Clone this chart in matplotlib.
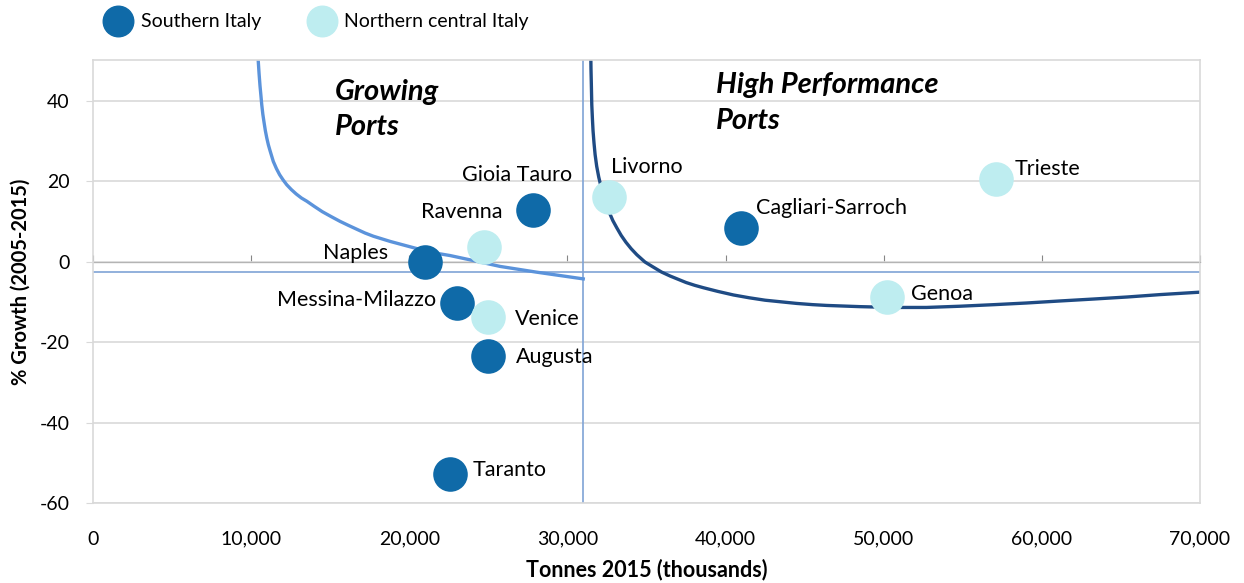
import matplotlib
matplotlib.use('Agg')
import matplotlib.pyplot as plt
from matplotlib.lines import Line2D

plt.rcParams['font.family'] = ['Lato', 'DejaVu Sans']
plt.rcParams['axes.unicode_minus'] = False

# ports (tonnes 2015 in thousands, % growth 2005-2015)
south_names = ['Naples', 'Messina-Milazzo', 'Augusta', 'Taranto', 'Gioia Tauro', 'Cagliari-Sarroch']
south_x = [21000, 23000, 25000, 22600, 27800, 41000]
south_y = [0.0, -10.2, -23.4, -52.7, 12.7, 8.4]

north_names = ['Ravenna', 'Venice', 'Livorno', 'Genoa', 'Trieste']
north_x = [24700, 25000, 32600, 50200, 57100]
north_y = [3.7, -13.7, 16.1, -8.7, 20.4]

# averages (quadrant lines)
avg_x = 31000
avg_y = -2.5

# curves
grow_x = [10450, 10500, 10560, 10620, 10670, 10740, 10820, 10900, 10990, 11090, 11200,
          11300, 11400, 11600, 11800, 12020, 12250, 12540, 12850, 13180, 13520, 14000,
          14500, 15050, 15620, 16150, 16700, 17200, 17730, 18800, 19840, 20700, 21520,
          22580, 24000, 25740, 28000, 31000]
grow_y = [49.8, 46.8, 43.7, 41.2, 39.0, 36.6, 34.5, 32.5, 30.7, 29.0, 27.5,
          26.2, 24.9, 23.1, 21.6, 20.3, 19.1, 17.9, 16.8, 15.8, 15.0, 13.7,
          12.4, 11.2, 10.0, 9.0, 8.0, 7.1, 6.3, 5.0, 3.9, 3.0, 2.2,
          1.5, 0.3, -1.2, -2.6, -4.3]
high_x = [31480, 31490, 31510, 31540, 31580, 31620, 31680, 31750, 31850, 31980, 32120,
          32280, 32450, 32650, 32870, 33120, 33400, 33700, 34030, 34390, 34900, 35400,
          35950, 36500, 37000, 37500, 38050, 38600, 39500, 40500, 41500, 42500, 43500,
          44500, 45500, 46400, 48500, 50600, 52700, 54800, 57000, 59000, 61100, 63300,
          65400, 67500, 70000]
high_y = [50.6, 47.8, 44.5, 39.0, 35.5, 32.5, 29.5, 26.6, 23.7, 21.0, 18.7,
          16.6, 14.3, 12.2, 10.2, 8.4, 6.5, 4.8, 3.2, 1.7, -0.1, -1.3,
          -2.6, -3.6, -4.4, -5.2, -5.9, -6.5, -7.4, -8.3, -9.0, -9.6, -10.0,
          -10.4, -10.7, -10.9, -11.2, -11.4, -11.4, -11.1, -10.7, -10.3, -9.8, -9.3,
          -8.8, -8.2, -7.6]

dark = '#0F6AA8'
light = '#BEEDF0'
grid_c = '#D9D9D9'

fig = plt.figure(figsize=(12.44, 5.83), dpi=100)
ax = fig.add_axes([93/1244, 1-503/583, (1200-93)/1244, (503-60.4)/583])

ax.set_xlim(0, 70000)
ax.set_ylim(-60, 50)
ax.set_yticks([-60, -40, -20, 0, 20, 40])
ax.set_xticks(range(0, 70001, 10000))
ax.set_xticklabels([f'{v:,}' for v in range(0, 70001, 10000)])
ax.grid(axis='y', color=grid_c, lw=1.2)
ax.set_axisbelow(True)
for s in ax.spines.values():
    s.set_color(grid_c)
    s.set_linewidth(1.2)
ax.tick_params(axis='x', length=0, pad=20, labelsize=14, colors='#000000')
ax.tick_params(axis='y', length=5, color=grid_c, pad=12, labelsize=14)

# x axis line at y = 0 with tick marks
sec = ax.secondary_xaxis(60/110)
sec.set_xticks(range(0, 70001, 10000))
sec.tick_params(axis='x', length=5, color='#868686', labelbottom=False, labeltop=False,
                direction='out')
sec.spines['bottom'].set_color('#868686')
sec.spines['bottom'].set_linewidth(1.2)

ax.axvline(avg_x, color='#7FA3D6', lw=1.2, zorder=1)
ax.axhline(avg_y, color='#7FA3D6', lw=1.2, zorder=1)

ax.plot(grow_x, grow_y, color='#5B93DB', lw=2.4, zorder=2, solid_joinstyle='round')
ax.plot(high_x, high_y, color='#1F4B84', lw=2.4, zorder=2, solid_joinstyle='round')

ax.scatter(south_x, south_y, s=620, color=dark, zorder=3, linewidths=0)
ax.scatter(north_x, north_y, s=620, color=light, zorder=3, linewidths=0)

# label offsets in pixels
offsets = {
    'Gioia Tauro': (-16, 35, 'center'),
    'Ravenna': (19, 35, 'right'),
    'Naples': (-37, 9, 'right'),
    'Messina-Milazzo': (-21, 3, 'right'),
    'Venice': (27, -2, 'left'),
    'Augusta': (28, -1, 'left'),
    'Taranto': (22, 4, 'left'),
    'Livorno': (2, 30, 'left'),
    'Cagliari-Sarroch': (15, 20, 'left'),
    'Trieste': (19, 10, 'left'),
    'Genoa': (24, 3, 'left'),
}
for names, xs, ys in [(south_names, south_x, south_y), (north_names, north_x, north_y)]:
    for n, x, y in zip(names, xs, ys):
        dx, dy, ha = offsets[n]
        ax.annotate(n, (x, y), xytext=(dx, dy), textcoords='offset pixels',
                    ha=ha, va='center', fontsize=15.5, zorder=4)

ax.text(15300, 37.8, 'Growing\nPorts', fontsize=21, fontweight='bold', style='italic',
        ha='left', va='center', linespacing=1.45)
ax.text(39400, 39.4, 'High Performance\nPorts', fontsize=21, fontweight='bold',
        style='italic', ha='left', va='center', linespacing=1.45)

ax.set_xlabel('Tonnes 2015 (thousands)', fontsize=15.5, fontweight='bold', labelpad=8)
ax.set_ylabel('% Growth (2005-2015)', fontsize=14.5, fontweight='bold', labelpad=6)

handles = [Line2D([], [], marker='o', ls='', markersize=22, color=dark),
           Line2D([], [], marker='o', ls='', markersize=22, color=light)]
fig.legend(handles, ['Southern Italy', 'Northern central Italy'], loc='center left',
           bbox_to_anchor=(91/1244, 1-22/583), ncol=2, frameon=False, fontsize=14,
           handletextpad=0.15, columnspacing=2.15, borderaxespad=0)

fig.savefig('out.png', dpi=100)
